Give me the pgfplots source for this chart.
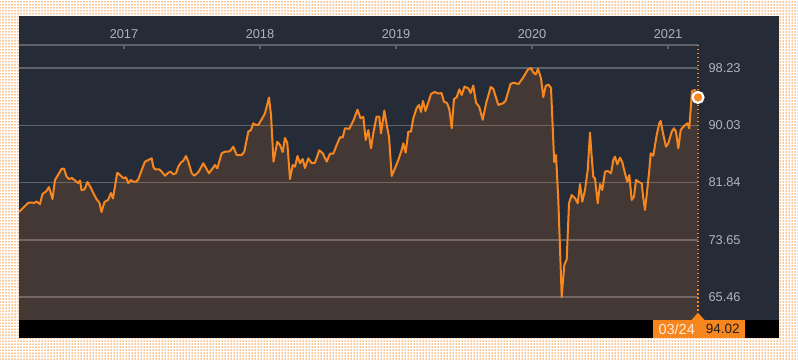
\documentclass[border=0pt]{standalone}
\usepackage{pgfplots}
\pgfplotsset{compat=1.18}
\usepackage{pgfplotstable}
\usepackage{fontspec}
\setmainfont{Liberation Sans}
\usetikzlibrary{patterns.meta}
\definecolor{panelc}{RGB}{38,44,55}
\definecolor{orangec}{RGB}{247,134,31}
\definecolor{gridc}{RGB}{95,99,108}
\definecolor{topc}{RGB}{92,96,104}
\definecolor{labelc}{RGB}{176,179,186}

\pgfplotstableread{
x y
19 77.63
22 78.06
25 78.49
28 78.92
31 78.99
34 78.92
36.5 79.13
40 78.77
42.5 80.20
46.5 80.63
49 81.21
52.5 79.49
55 82.21
58 82.92
61.5 83.78
64 83.85
66.5 82.71
69 82.35
72 82.49
75 82.14
78 81.78
80 82.14
81.5 80.78
84.5 80.85
87.5 81.92
91 81.06
93.5 80.28
96.5 79.49
99.5 78.92
101.5 77.63
104.5 79.06
108 79.35
111 80.35
113 79.56
116 82.21
117.3 83.25
120 82.92
123.3 82.45
126 82.59
128.3 81.74
130.7 82.21
133.3 81.96
136 81.96
138.3 82.31
141.7 83.64
145 84.83
148.3 85.07
151.7 85.31
153.3 84.11
155 83.74
159.3 83.74
161.7 83.40
165 82.82
168.3 83.25
170.7 83.40
173.3 83.02
176 83.17
178.3 84.11
180.7 84.68
183.3 84.97
186 85.64
188.3 84.83
191.7 83.17
194.3 82.82
198.3 83.31
203.3 84.60
209 83.17
215 84.35
217.3 83.88
221.7 86.03
225 86.26
228.3 86.26
230 86.36
233.3 86.97
236.7 85.78
241.7 85.78
244.3 86.26
248.3 89.12
251 89.36
253.3 90.32
255.7 90.08
258.3 90.08
262.3 91.03
265 91.75
269 94.01
271 91.51
273.5 84.83
277.3 87.69
280 87.21
282.7 86.21
285 88.22
287.3 87.50
290 82.35
292.7 84.35
295 84.11
297.5 85.64
300 84.60
302.7 85.21
305 83.92
308.3 85.31
311.7 84.60
315 84.68
319.3 86.46
322.7 86.03
326.7 84.83
330 85.97
333.3 85.97
336.7 87.21
340 88.33
342.7 88.29
345 89.60
349.3 89.53
353.3 90.68
357.5 92.26
360.5 91.03
363.3 91.26
365.7 87.93
368.3 89.36
371 86.74
373.3 88.89
376.5 91.26
379.3 91.26
381 88.89
384.3 92.12
386.7 90.08
389 88.40
391.7 82.78
395 83.88
398.3 85.07
401.7 86.50
403.3 87.46
405.7 86.11
408.3 89.12
411 89.12
413.3 91.03
416.7 92.51
419 92.94
421 91.94
423 93.51
425.5 92.08
428 93.18
431 94.51
434.5 94.80
438.5 94.58
441.5 94.65
444 93.41
447 93.22
449.3 92.36
451.7 89.60
454 93.80
456.7 94.04
459.3 95.18
461.7 94.37
464.5 95.56
468.3 95.33
470.7 94.65
473.3 95.73
476 93.29
479.3 92.65
482.7 90.83
486.3 93.29
490.7 95.51
493.3 95.25
498.3 92.94
503 93.18
505.5 93.51
510.5 95.94
513.3 96.13
518.5 95.94
522.7 96.76
527.8 97.99
531 98.23
533.3 97.59
535.7 97.30
538 98.09
541 96.76
543.3 94.08
545.7 95.66
548.3 95.87
551 95.37
552.3 91.08
554.2 84.78
556 85.78
558.3 79.35
561.7 65.46
564.3 70.05
566.7 70.86
569 78.87
571.7 80.06
575 79.59
577.7 78.87
580 81.63
582.3 79.10
585 80.78
587.7 83.64
590 88.97
591.7 85.50
593.3 82.64
595 82.45
597.7 78.87
600 81.63
602.3 80.78
605 83.40
607.7 83.49
611 83.17
613.3 85.07
615 85.54
617.3 84.45
620 85.40
622.3 84.74
625 83.17
627.3 81.96
629.3 82.92
631.7 79.35
634 79.82
636 82.21
639.3 81.88
641.7 81.74
643.3 79.59
645 77.92
646.7 80.06
649.3 83.64
650.7 86.03
653.3 85.68
656.7 88.64
659.3 90.32
660.7 90.65
662.7 89.12
666 86.97
668.3 87.46
671.7 89.12
674 89.60
676 89.12
678.3 86.74
680.7 89.36
683.3 89.83
687.3 90.32
689.3 89.60
692 94.94
695 95.08
698 94.02
}\pricedata

\begin{document}
\begin{tikzpicture}[x=1pt,y=1pt]
\useasboundingbox (0,0) rectangle (798,359);
\fill[white] (0,0) rectangle (798,359);
\fill[pattern={Dots[distance=3pt,radius=0.75pt]}, pattern color=orangec] (0,0) rectangle (798,359);
\fill[panelc] (19,21.5) rectangle (779,343);
\fill[black] (19,21.5) rectangle (779,39);
\begin{axis}[
  at={(19pt,39pt)}, anchor=south west,
  scale only axis, width=679pt, height=275pt,
  xmin=19, xmax=698, ymin=62.18, ymax=101.52,
  axis line style={draw=none},
  xtick={124,260,396,532,668},
  xticklabels={2017,2018,2019,2020,2021},
  xtick pos=top, xticklabel pos=top,
  tick align=inside,
  major tick length=4pt,
  x tick style={color=topc, line width=1.2pt},
  xticklabel style={yshift=2.5pt},
  ytick={65.46,73.65,81.84,90.03,98.23},
  yticklabels={65.46,73.65,81.84,90.03,98.23},
  ytick pos=right, yticklabel pos=right,
  y tick style={draw=none},
  yticklabel style={anchor=west, xshift=7pt},
  tick label style={font=\fontsize{12.8}{15}\selectfont, text=labelc},
  ymajorgrids,
  major grid style={color=gridc, line width=1.5pt},
]
\addplot[draw=none, fill=orangec, fill opacity=0.14] table {\pricedata} \closedcycle;
\addplot[orangec, line width=2pt, line join=round] table {\pricedata};
\end{axis}
\draw[topc, line width=1.5pt] (19,314) -- (698,314);
\draw[orangec, line width=1.5pt, dash pattern=on 1.5pt off 2.5pt] (698,314) -- (698,46);
\begin{axis}[
  at={(19pt,39pt)}, anchor=south west,
  scale only axis, width=679pt, height=275pt,
  xmin=19, xmax=698, ymin=62.18, ymax=101.52,
  hide axis, clip=false,
]
\addplot[only marks, mark=*, mark size=5.5pt,
  mark options={fill=orangec, draw=white, line width=2.2pt}] coordinates {(698,94.02)};
\end{axis}
\fill[orangec] (653.3,21.5) rectangle (744.5,39);
\fill[orangec] (691.5,39) -- (698,46.3) -- (704.5,39) -- cycle;
\node[font=\fontsize{14.5}{16}\selectfont, text={rgb,255:red,255;green,236;blue,220}] at (676.7,30) {03/24};
\node[font=\fontsize{13.5}{16}\selectfont, text={rgb,255:red,30;green,30;blue,30}] at (722.7,30) {94.02};
\end{tikzpicture}
\end{document}
